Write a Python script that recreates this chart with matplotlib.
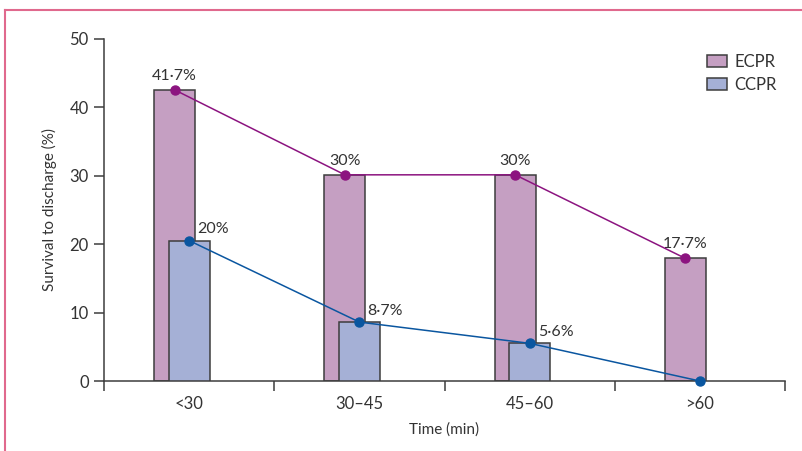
import numpy as np
import matplotlib
matplotlib.use("Agg")
import matplotlib.pyplot as plt
from matplotlib.lines import Line2D
from matplotlib.patches import Patch

plt.rcParams['font.family'] = ['Lato', 'DejaVu Sans']

# data
categories = ['<30', '30\u201345', '45\u201360', '>60']
ecpr = [42.5, 30.1, 30.1, 17.9]
ccpr = [20.5, 8.6, 5.5, 0.0]
ecpr_labels = ['41\u00b77%', '30%', '30%', '17\u00b77%']
ccpr_labels = ['20%', '8\u00b77%', '5\u00b76%', None]

ecpr_fill = '#c59fc2'
ccpr_fill = '#a5b0d6'
ecpr_line = '#8c1480'
ccpr_line = '#0a56a0'
axis_col = '#3d3d3d'
text_col = '#333333'

fig = plt.figure(figsize=(8.03, 4.51), dpi=100)
ax = fig.add_axes([0.1295, 0.1552, 0.8481, 0.7594])

x = np.arange(len(categories))
width = 0.24
offset = -0.085

ax.bar(x + offset, ecpr, width, color=ecpr_fill, edgecolor=axis_col, linewidth=1.1, zorder=2)
ax.bar(x, [v if v > 0 else np.nan for v in ccpr], width, color=ccpr_fill,
       edgecolor=axis_col, linewidth=1.1, zorder=3)

ax.plot(x + offset, ecpr, color=ecpr_line, lw=1.1, marker='o', ms=6.5, zorder=4, clip_on=False)
ax.plot(x, ccpr, color=ccpr_line, lw=1.1, marker='o', ms=6.5, zorder=5, clip_on=False)

for xi, v, lab in zip(x, ecpr, ecpr_labels):
    ax.annotate(lab, (xi + offset, v), xytext=(0, 5), textcoords='offset points',
                ha='center', va='bottom', fontsize=11.5, color=text_col)
for xi, v, lab in zip(x, ccpr, ccpr_labels):
    if lab:
        ax.annotate(lab, (xi, v), xytext=(6, 3), textcoords='offset points',
                    ha='left', va='bottom', fontsize=11.5, color=text_col)

ax.set_xlim(-0.5, 3.5)
ax.set_ylim(0, 50)
ax.set_yticks([0, 10, 20, 30, 40, 50])
ax.set_xticks(np.arange(-0.5, 4.0, 1.0))
ax.set_xticklabels([])
ax.set_xticks(x, minor=True)
ax.set_xticklabels(categories, minor=True)
ax.tick_params(axis='x', which='major', length=7, width=1.1, color=axis_col, direction='out')
ax.tick_params(axis='x', which='minor', length=0, pad=11, labelsize=12, labelcolor=text_col)
ax.tick_params(axis='y', length=7, width=1.1, color=axis_col, labelsize=12,
               labelcolor=text_col, pad=4)

for s in ['top', 'right']:
    ax.spines[s].set_visible(False)
for s in ['left', 'bottom']:
    ax.spines[s].set_color(axis_col)
    ax.spines[s].set_linewidth(1.1)

ax.set_ylabel('Survival to discharge (%)', fontsize=11, color=text_col, labelpad=9)
ax.set_xlabel('Time (min)', fontsize=11, color=text_col, labelpad=7)

handles = [Patch(facecolor=ecpr_fill, edgecolor=axis_col, linewidth=1.1, label='ECPR'),
           Patch(facecolor=ccpr_fill, edgecolor=axis_col, linewidth=1.1, label='CCPR')]
ax.legend(handles=handles, loc='upper right', bbox_to_anchor=(1.01, 1.0), frameon=False,
          fontsize=12, handlelength=1.2, handleheight=0.75, handletextpad=0.45,
          labelspacing=0.45, labelcolor=text_col)

# pink frame on top and left
frame_col = '#e0698d'
fig.add_artist(Line2D([5 / 803, 1.0], [1 - 10 / 451, 1 - 10 / 451], transform=fig.transFigure,
                      color=frame_col, lw=1.5))
fig.add_artist(Line2D([5 / 803, 5 / 803], [0, 1 - 10 / 451], transform=fig.transFigure,
                      color=frame_col, lw=1.5))

fig.savefig('out.png', dpi=100)
